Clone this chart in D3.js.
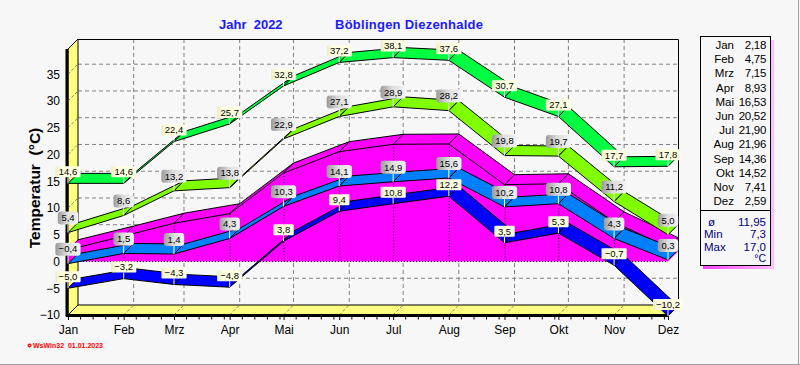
<!DOCTYPE html>
<html><head><meta charset="utf-8">
<script src="https://cdn.jsdelivr.net/npm/d3@7"></script>
<style>body{margin:0;background:#f7f7f7}svg{display:block}</style>
</head><body>
<svg id="c" width="800" height="365"></svg>
<script>
const months = ["Jan","Feb","Mrz","Apr","Mai","Jun","Jul","Aug","Sep","Okt","Nov","Dez"];
const absMax  = [14.6,14.6,22.4,25.7,32.8,37.2,38.1,37.6,30.7,27.1,17.7,17.8];
const meanMax = [5.4,8.6,13.2,13.8,22.9,27.1,28.9,28.2,19.8,19.7,11.2,5.0];
const meanTemp= [2.18,4.75,7.15,8.93,16.53,20.52,21.90,21.96,14.36,14.52,7.41,2.59];
const meanMin = [-0.4,1.5,1.4,4.3,10.3,14.1,14.9,15.6,10.2,10.8,4.3,0.3];
const absMin  = [-5.0,-3.2,-4.3,-4.8,3.8,9.4,10.8,12.2,3.5,5.3,-0.7,-10.2];
const yTicks  = [-10,-5,0,5,10,15,20,25,30,35];
const summaryLabels = ["ø","Min","Max"];
const summaryValues = ["11,95","7,3","17,0"];
const titleLeft = "Jahr  2022";
const titleRight = "Böblingen Diezenhalde";

const svg = d3.select("#c");
const fmt = v => d3.format(".1f")(v).replace(".", ",");
const fmt2 = v => d3.format(".2f")(v).replace(".", ",");
const dates = months.map((m,i) => new Date(Date.UTC(2022, i, 1)));
const x = d3.scaleUtc().domain([dates[0], dates[11]]).range([68, 668]);
const y = d3.scaleLinear().domain([-10, 35]).range([315, 74.2]);
const DX = 10, DY = -10;
const TOPF = 49; // front top of wall
const xb = i => x(dates[i]);
const FONT = "Liberation Sans, Arial";

// background + border
svg.append("rect").attr("width",800).attr("height",365).attr("fill","#f7f7f7");
svg.append("line").attr("x1",0).attr("x2",800).attr("y1",364.5).attr("y2",364.5).attr("stroke","#a0a0a0");
svg.append("line").attr("x1",798.5).attr("x2",798.5).attr("y1",0).attr("y2",365).attr("stroke","#a0a0a0");

const defs = svg.append("defs");
const gg = defs.append("linearGradient").attr("id","gray").attr("x1","0").attr("x2","1").attr("y1","0").attr("y2","0");
gg.append("stop").attr("offset","0").attr("stop-color","#9a9a9a");
gg.append("stop").attr("offset","0.45").attr("stop-color","#dcdcdc");
gg.append("stop").attr("offset","1").attr("stop-color","#f4f4f4");
const yg = defs.append("linearGradient").attr("id","yel").attr("x1","0").attr("x2","1").attr("y1","0").attr("y2","0");
yg.append("stop").attr("offset","0").attr("stop-color","#ececc8");
yg.append("stop").attr("offset","0.25").attr("stop-color","#ffffe0");
yg.append("stop").attr("offset","1").attr("stop-color","#ffffe4");
const lgr = defs.append("linearGradient").attr("id","pink").attr("x1","0").attr("x2","1").attr("y1","0").attr("y2","0");
lgr.append("stop").attr("offset","0").attr("stop-color","#ff40ff");
lgr.append("stop").attr("offset","1").attr("stop-color","#ffc0ff");

// back grid
const g = svg.append("g");
yTicks.filter(v => v > -10).forEach(v => {
  g.append("line").attr("x1",68+DX).attr("x2",668+DX).attr("y1",y(v)+DY).attr("y2",y(v)+DY)
    .attr("stroke","#808080").attr("stroke-dasharray","4,3");
});
dates.slice(1,11).forEach(d => {
  g.append("line").attr("x1",x(d)+DX).attr("x2",x(d)+DX).attr("y1",TOPF+DY).attr("y2",315+DY)
    .attr("stroke","#808080").attr("stroke-dasharray","4,3");
});
g.append("path").attr("d",`M${68+DX},${TOPF+DY+0.5}H${668+DX+0.5}V${315+DY}`).attr("fill","none").attr("stroke","#000");

// wall and floor
g.append("path").attr("d",`M68,${TOPF}L${68+DX},${TOPF+DY}L${68+DX},${315+DY}L68,315Z`)
  .attr("fill","#ffff80").attr("stroke","#000");
g.append("path").attr("d",`M68,315L${68+DX},${315+DY}L${668+DX},${315+DY}L668,315Z`)
  .attr("fill","#ffff80").attr("stroke","#000");
yTicks.filter(v => v > -10).forEach(v => {
  g.append("line").attr("x1",68).attr("x2",68+DX).attr("y1",y(v)).attr("y2",y(v)+DY)
    .attr("stroke","#808080").attr("stroke-dasharray","3,2");
});
dates.slice(1,11).forEach(d => {
  g.append("line").attr("x1",x(d)).attr("x2",x(d)+DX).attr("y1",315).attr("y2",315+DY)
    .attr("stroke","#808080").attr("stroke-dasharray","3,2");
});
g.append("line").attr("x1",67).attr("x2",67).attr("y1",TOPF).attr("y2",316.5).attr("stroke","#000").attr("stroke-width",3);
g.append("line").attr("x1",66).attr("x2",668).attr("y1",315.5).attr("y2",315.5).attr("stroke","#000").attr("stroke-width",3);

// x axis ticks
const xAxis = d3.axisBottom(x).tickValues(dates).tickSize(4).tickFormat((d,i) => months[i]);
const ax = svg.append("g").attr("transform","translate(0,316)").call(xAxis);
ax.select(".domain").remove();
ax.selectAll("text").attr("font-family",FONT).attr("font-size",12).attr("fill","#000").attr("dy","0.9em");
const minor = d3.utcDay.every(7).range(dates[0], dates[11]).filter(d => !dates.some(m => +m === +d));
svg.append("g").selectAll("line").data(minor).join("line")
  .attr("x1",d=>x(d)).attr("x2",d=>x(d)).attr("y1",317).attr("y2",319.5).attr("stroke","#000");

// y axis labels
const yAxis = d3.axisLeft(y).tickValues(yTicks).tickSize(0).tickPadding(7);
const ay = svg.append("g").attr("transform","translate(67,0)").call(yAxis);
ay.select(".domain").remove();
ay.selectAll("text").attr("font-family",FONT).attr("font-size",12).attr("fill","#000");

// magenta 3D area (mean temperature)
const y0 = y(0);
const P = meanTemp.map((v,i) => [xb(i), y(v)]);
const Q = P.map(p => [p[0]+DX, p[1]+DY]);
const line = d3.line();
const area = svg.append("g");
area.append("path").attr("d", line([...P, ...Q.slice().reverse()]) + "Z").attr("fill","#ff00ff");
area.append("path").attr("d", line([...P, [xb(11), y0], [xb(0), y0]]) + "Z").attr("fill","#ff00ff");
area.append("path").attr("d", line([P[11], Q[11], [xb(11)+DX, y0+DY], [xb(11), y0]]) + "Z").attr("fill","#ff00ff");
area.append("path").attr("d", line(Q)).attr("fill","none").attr("stroke","#000");
area.append("path").attr("d", line(P)).attr("fill","none").attr("stroke","#000");
P.forEach((p,i) => {
  area.append("line").attr("x1",p[0]).attr("y1",p[1]).attr("x2",Q[i][0]).attr("y2",Q[i][1]).attr("stroke","#000");
  if (i>0 && i<11) area.append("line").attr("x1",p[0]+0.5).attr("x2",p[0]+0.5).attr("y1",p[1]).attr("y2",y0)
    .attr("stroke","#000").attr("stroke-dasharray","1,2");
});
area.append("line").attr("x1",xb(0)).attr("x2",xb(11)).attr("y1",y0).attr("y2",y0).attr("stroke","#000").attr("stroke-dasharray","1,2");

// ribbons
function ribbon(vals, color) {
  const gr = svg.append("g");
  for (let i = 0; i < vals.length-1; i++) {
    const a = [xb(i), y(vals[i])], b = [xb(i+1), y(vals[i+1])];
    gr.append("path").attr("d", line([a, b, [b[0]+DX,b[1]+DY], [a[0]+DX,a[1]+DY]]) + "Z")
      .attr("fill", color).attr("stroke","#000").attr("stroke-width",1).attr("stroke-linejoin","round");
  }
}
ribbon(meanMin, "#0080ff");
ribbon(absMin, "#0000ff");
ribbon(meanMax, "#80ff00");
ribbon(absMax, "#00ff40");

// value labels
function labels(vals, kind) {
  const gr = svg.append("g");
  vals.forEach((v,i) => {
    const px = xb(i), py = y(v);
    const t = fmt(v);
    const w = t.length*4.8 + 6, h = kind==="gray" ? 13 : 11;
    const gap = kind==="gray" ? 8 : 6;
    const top = py - gap - h;
    gr.append("line").attr("x1",px).attr("x2",px).attr("y1",top+h).attr("y2",py).attr("stroke","#fff");
    gr.append("rect").attr("x",px-w/2).attr("y",top).attr("width",w).attr("height",h)
      .attr("rx", kind==="gray"?3:1).attr("fill", kind==="gray" ? "url(#gray)" : "url(#yel)");
    gr.append("text").attr("x",px).attr("y",top+h/2).attr("dy","0.35em").attr("text-anchor","middle")
      .attr("font-family",FONT).attr("font-size",9.5).attr("fill","#000").text(t);
  });
}
labels(absMin, "yel");
labels(meanMin, "gray");
labels(meanMax, "gray");
labels(absMax, "yel");

// titles
svg.append("text").attr("x",219).attr("y",29).attr("font-family",FONT).attr("font-weight","bold")
  .attr("font-size",13).attr("fill","#1a1aff").style("white-space","pre").text(titleLeft);
svg.append("text").attr("x",335).attr("y",29).attr("font-family",FONT).attr("font-weight","bold")
  .attr("font-size",13).attr("letter-spacing",0.25).attr("fill","#1a1aff").text(titleRight);
svg.append("text").attr("transform","translate(40,188) rotate(-90)").attr("text-anchor","middle")
  .attr("font-family",FONT).attr("font-weight","bold").attr("font-size",15.5)
  .style("white-space","pre").attr("fill","#000").text("Temperatur  (°C)");

// credit
svg.append("circle").attr("cx",29.5).attr("cy",345.5).attr("r",2).attr("fill","#f00");
svg.append("circle").attr("cx",29.5).attr("cy",345.5).attr("r",0.8).attr("fill","#fff");
svg.append("text").attr("x",33).attr("y",348.3).attr("font-family",FONT).attr("font-weight","bold")
  .attr("font-size",7).attr("fill","#f00").style("white-space","pre").text("WsWin32  01.01.2023");

// legend
const lg = svg.append("g");
lg.append("rect").attr("x",703).attr("y",40).attr("width",71).attr("height",229).attr("fill","url(#pink)");
lg.append("rect").attr("x",700.5).attr("y",36.5).attr("width",70).attr("height",229).attr("fill","#f7f7f7").attr("stroke","#000");
lg.append("line").attr("x1",700).attr("x2",771).attr("y1",210.5).attr("y2",210.5).attr("stroke","#000");
months.forEach((m,i) => {
  const yy = 49 + i*14.2;
  lg.append("text").attr("x",734).attr("y",yy).attr("text-anchor","end").attr("font-family",FONT)
    .attr("font-size",11.5).attr("fill","#000").text(m);
  lg.append("text").attr("x",766).attr("y",yy).attr("text-anchor","end").attr("font-family",FONT)
    .attr("font-size",11.5).attr("letter-spacing",-0.3).attr("fill","#000").text(fmt2(meanTemp[i]));
});
summaryLabels.forEach((s,i) => {
  const yy = 225.5 + i*12.5;
  lg.append("text").attr("x", i===0 ? 708 : 704).attr("y",yy).attr("font-family",FONT)
    .attr("font-size",11.5).attr("fill","#000080").text(s);
  lg.append("text").attr("x",766).attr("y",yy).attr("text-anchor","end").attr("font-family",FONT)
    .attr("font-size",11.5).attr("fill","#000080").text(summaryValues[i]);
});
lg.append("text").attr("x",766).attr("y",262).attr("text-anchor","end").attr("font-family",FONT)
  .attr("font-size",10.5).attr("fill","#000080").text("°C");
</script>
</body></html>
